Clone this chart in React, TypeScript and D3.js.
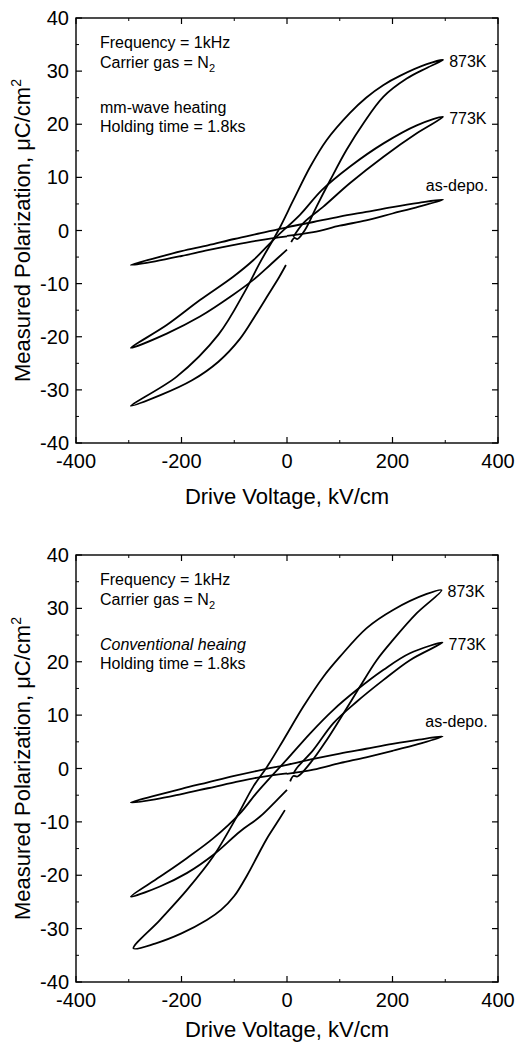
import React from 'react';
import * as d3 from 'd3';

// drive voltage (kV/cm) vs measured polarization (uC/cm2), traced loops
const mmAsDepo: [number, number][] = [
  [0, -1.0], [50, -0.3], [100, 0.9], [150, 1.9], [200, 3.2], [250, 4.5], [296, 5.8],
  [250, 5.2], [200, 4.4], [150, 3.5], [100, 2.6], [50, 1.6], [0, 0.6], [-50, -0.5],
  [-100, -1.6], [-150, -2.8], [-200, -3.9], [-250, -5.2], [-296, -6.5],
  [-250, -5.8], [-200, -4.8], [-150, -3.7], [-100, -2.7], [-50, -1.8], [0, -1.1],
];
const mm773: [number, number][] = [
  [12, -1.2], [31, 1.4], [69, 4.5], [119, 8.9], [183, 13.9], [246, 18.3], [296, 21.4],
  [246, 19.8], [183, 16.4], [119, 12.0], [66, 7.6], [25, 3.0], [-20, -1.2], [-64, -5.6],
  [-102, -8.7], [-165, -13.1], [-228, -17.8], [-296, -22.1],
  [-228, -19.4], [-165, -16.2], [-102, -12.1], [-64, -9.3], [-30, -6.3], [0, -3.6],
];
const mm873: [number, number][] = [
  [8, -2.2], [14, -1.4], [20, -1.6], [34, 0.1], [56, 4.5], [82, 9.5], [113, 15.2],
  [145, 20.2], [183, 25.2], [227, 28.6], [265, 30.6], [296, 32.1],
  [265, 31.3], [214, 29.1], [183, 27.4], [150, 25.0], [119, 22.1], [75, 17.0], [44, 12.0],
  [12, 5.7], [-16, 0.1], [-51, -6.0], [-80, -11.5], [-130, -19.6], [-209, -27.5], [-296, -33.0],
  [-240, -31.0], [-180, -28.2], [-130, -24.7], [-90, -20.5], [-60, -16.0], [-35, -12.0],
  [-15, -8.8], [-2, -6.5],
];

const convAsDepo: [number, number][] = [
  [0, -1.0], [50, -0.2], [100, 1.0], [150, 2.1], [200, 3.3], [250, 4.6], [295, 6.0],
  [250, 5.4], [200, 4.6], [150, 3.7], [100, 2.8], [50, 1.8], [0, 0.7], [-50, -0.3],
  [-100, -1.4], [-150, -2.6], [-200, -3.8], [-250, -5.1], [-296, -6.4],
  [-250, -5.8], [-200, -4.8], [-150, -3.7], [-100, -2.6], [-50, -1.6], [0, -0.9],
];
const conv773: [number, number][] = [
  [12, -1.0], [18, 0.0], [50, 3.5], [88, 8.5], [132, 12.5], [183, 16.6], [233, 20.3], [295, 23.6],
  [233, 21.6], [183, 18.5], [132, 14.7], [88, 11.0], [44, 6.6], [-1, 1.6], [-30, -1.5],
  [-58, -4.6], [-89, -8.4], [-140, -13.1], [-190, -16.8], [-241, -20.3], [-296, -24.0],
  [-241, -22.1], [-190, -19.6], [-140, -16.2], [-89, -11.8], [-51, -9.0], [-20, -6.0], [0, -4.0],
];
const conv873: [number, number][] = [
  [6, -2.4], [12, -1.4], [20, -1.5], [44, 1.0], [75, 5.3], [107, 10.3], [138, 15.3],
  [170, 20.3], [201, 24.1], [246, 29.1], [293, 33.4],
  [265, 32.7], [201, 29.7], [151, 26.3], [100, 20.9], [69, 17.2], [31, 11.6], [-7, 5.3],
  [-38, 0.3], [-64, -3.4], [-95, -9.0], [-140, -16.5], [-190, -22.8], [-241, -28.4], [-291, -33.7],
  [-250, -32.8], [-200, -30.9], [-152, -28.4], [-125, -26.5], [-100, -23.9], [-75, -19.9],
  [-55, -16.2], [-38, -13.1], [-20, -10.3], [-4, -7.8],
];

const loopNames = ['as-depo.', '773K', '873K'];
const xTicks = [-400, -200, 0, 200, 400];
const yTicks = [-40, -30, -20, -10, 0, 10, 20, 30, 40];
const xMinor = [-300, -100, 100, 300];
const yMinor = [-35, -25, -15, -5, 5, 15, 25, 35];
const noteLinesMm = ['Frequency = 1kHz', 'Carrier gas = N', 'mm-wave heating', 'Holding time = 1.8ks'];
const noteLinesConv = ['Frequency = 1kHz', 'Carrier gas = N', 'Conventional heaing', 'Holding time = 1.8ks'];

const FONT = 'Liberation Sans, Arial, sans-serif';
const LEFT = 76;
const RIGHT = 498;

type PanelProps = {
  top: number;
  bottom: number;
  titleGap: number;
  loops: [number, number][][];
  notes: string[];
  italicNote: boolean;
};

const Panel = ({ top, bottom, titleGap, loops, notes, italicNote }: PanelProps) => {
  const x = d3.scaleLinear().domain([-400, 400]).range([LEFT, RIGHT]);
  const y = d3.scaleLinear().domain([-40, 40]).range([bottom, top]);
  const line = d3
    .line<[number, number]>()
    .x((d) => x(d[0]))
    .y((d) => y(d[1]))
    .curve(d3.curveCatmullRom.alpha(0.5));

  const noteY = [30, 50, 95, 114];

  return (
    <g>
      <rect x={LEFT} y={top} width={RIGHT - LEFT} height={bottom - top} fill="none" stroke="#000" strokeWidth={1.4} />
      {xTicks.map((t) => (
        <g key={'xt' + t}>
          <line x1={x(t)} x2={x(t)} y1={bottom} y2={bottom - 6} stroke="#000" strokeWidth={1.2} />
          <line x1={x(t)} x2={x(t)} y1={top} y2={top + 6} stroke="#000" strokeWidth={1.2} />
          <text x={x(t)} y={bottom + 25} textAnchor="middle" fontSize={20} fontFamily={FONT}>
            {t}
          </text>
        </g>
      ))}
      {xMinor.map((t) => (
        <g key={'xm' + t}>
          <line x1={x(t)} x2={x(t)} y1={bottom} y2={bottom - 3} stroke="#000" strokeWidth={1} />
          <line x1={x(t)} x2={x(t)} y1={top} y2={top + 3} stroke="#000" strokeWidth={1} />
        </g>
      ))}
      {yTicks.map((t) => (
        <g key={'yt' + t}>
          <line x1={LEFT} x2={LEFT + 6} y1={y(t)} y2={y(t)} stroke="#000" strokeWidth={1.2} />
          <line x1={RIGHT} x2={RIGHT - 6} y1={y(t)} y2={y(t)} stroke="#000" strokeWidth={1.2} />
          <text x={LEFT - 7} y={y(t) + 7} textAnchor="end" fontSize={20} fontFamily={FONT}>
            {t}
          </text>
        </g>
      ))}
      {yMinor.map((t) => (
        <g key={'ym' + t}>
          <line x1={LEFT} x2={LEFT + 3} y1={y(t)} y2={y(t)} stroke="#000" strokeWidth={1} />
          <line x1={RIGHT} x2={RIGHT - 3} y1={y(t)} y2={y(t)} stroke="#000" strokeWidth={1} />
        </g>
      ))}

      {loops.map((pts, i) => (
        <path key={'loop' + i} d={line(pts) || ''} fill="none" stroke="#000" strokeWidth={1.8} strokeLinejoin="round" />
      ))}

      {loops.map((pts, i) => {
        const tip = pts.reduce((a, b) => (b[0] > a[0] ? b : a));
        const isDepo = i === 0;
        return (
          <text
            key={'lab' + i}
            x={isDepo ? x(tip[0]) + 45 : x(tip[0]) + 6}
            y={isDepo ? y(tip[1]) - 9 : y(tip[1]) + 7}
            textAnchor={isDepo ? 'end' : 'start'}
            fontSize={16}
            fontFamily={FONT}
          >
            {loopNames[i]}
          </text>
        );
      })}

      {notes.map((s, i) => (
        <text
          key={'note' + i}
          x={100}
          y={top + noteY[i]}
          fontSize={16}
          fontFamily={FONT}
          fontStyle={italicNote && i === 2 ? 'italic' : 'normal'}
        >
          {s}
          {i === 1 && (
            <tspan fontSize={11} dy={4}>
              2
            </tspan>
          )}
        </text>
      ))}

      <text
        transform={`translate(30,${(top + bottom) / 2}) rotate(-90)`}
        textAnchor="middle"
        fontSize={22}
        fontFamily={FONT}
      >
        Measured Polarization, μC/cm
        <tspan fontSize={14} dy={-9}>
          2
        </tspan>
      </text>
      <text x={(LEFT + RIGHT) / 2} y={bottom + titleGap} textAnchor="middle" fontSize={22} fontFamily={FONT}>
        Drive Voltage, kV/cm
      </text>
    </g>
  );
};

export default function App() {
  return (
    <svg width={516} height={1045} style={{ position: 'absolute', left: 0, top: 0, background: '#fff' }}>
      <rect width={516} height={1045} fill="#fff" />
      <Panel top={18} bottom={443} titleGap={61} loops={[mmAsDepo, mm773, mm873]} notes={noteLinesMm} italicNote={false} />
      <Panel top={555} bottom={982} titleGap={55} loops={[convAsDepo, conv773, conv873]} notes={noteLinesConv} italicNote={true} />
    </svg>
  );
}
